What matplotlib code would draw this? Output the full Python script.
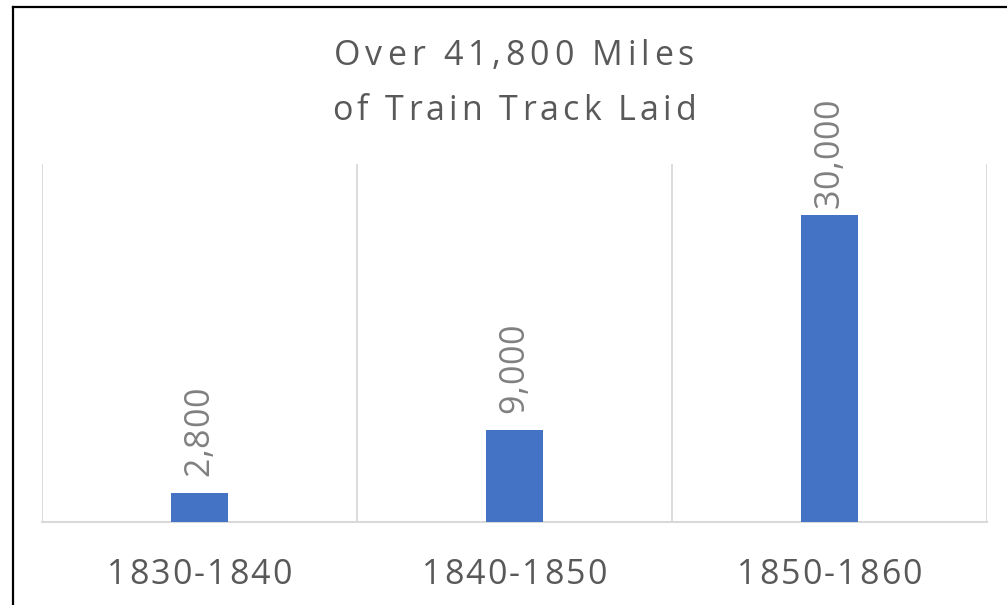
import numpy as np
import matplotlib.pyplot as plt
from matplotlib.lines import Line2D
from matplotlib.text import Text
from matplotlib.transforms import IdentityTransform, blended_transform_factory
from matplotlib.font_manager import findfont, get_font

periods = ['1830-1840', '1840-1850', '1850-1860']
miles = [2800, 9000, 30000]
value_labels = ['2,800', '9,000', '30,000']
title_lines = ['Over 41,800 Miles', 'of Train Track Laid']

plt.rcParams['font.family'] = ['Open Sans', 'DejaVu Sans']

W, H = 1007, 605
FS = 24.5


class TrackedText(Text):
    """Text drawn glyph by glyph with extra letter spacing (tracking, in pixels)."""

    def __init__(self, *args, tracking=0.0, anchor='center', **kwargs):
        super().__init__(*args, **kwargs)
        self._tracking = tracking
        self._anchor = anchor

    def draw(self, renderer):
        if not self.get_visible() or not self.get_text():
            return
        s = self.get_text()
        prop = self.get_fontproperties()
        font = get_font(findfont(prop))
        font.set_size(prop.get_size_in_points(), self.figure.dpi)
        adv = [font.load_char(ord(c)).linearHoriAdvance / 65536 for c in s]
        total = sum(adv) + self._tracking * (len(s) - 1)
        x, y = self.get_transform().transform(self.get_unitless_position())
        rot = self.get_rotation()
        ux, uy = np.cos(np.deg2rad(rot)), np.sin(np.deg2rad(rot))
        start = {'start': 0.0, 'center': -total / 2, 'end': -total}[self._anchor]
        pen = start
        for c, a in zip(s, adv):
            if c != ' ':
                d = pen + a / 2
                t = Text(x + d * ux, y + d * uy, c, transform=IdentityTransform(),
                         rotation=rot, ha='center', va=self.get_verticalalignment(),
                         rotation_mode='anchor' if rot == 0 else 'default',
                         fontproperties=prop, color=self.get_color())
                t.set_figure(self.figure)
                t.draw(renderer)
            pen += a + self._tracking


fig = plt.figure(figsize=(W / 100, H / 100), dpi=100)
ax = fig.add_axes([42 / W, 1 - 522 / H, 945 / W, 358 / H])

x = np.arange(len(periods))
ax.bar(x, miles, width=0.184, color='#4472C4', zorder=3)

ax.set_xlim(-0.5, len(periods) - 0.5)
ax.set_ylim(0, 35000)
ax.set_xticks([])
ax.set_yticks([])
for s in ['top', 'right', 'left']:
    ax.spines[s].set_visible(False)
ax.spines['bottom'].set_color('#d9d9d9')
ax.spines['bottom'].set_linewidth(1.5)
for b in np.arange(len(periods) + 1) - 0.5:
    ax.axvline(b, color='#d9d9d9', linewidth=1.3, zorder=1)

# data labels, rotated, just above the bars
label_gap = [17, 17, 7]
for xi, v, lab, gap in zip(x, miles, value_labels, label_gap):
    px, py = ax.transData.transform((xi, v))
    ax.add_artist(TrackedText(px, py + gap, lab, transform=IdentityTransform(),
                              rotation=90, va='center', anchor='start', tracking=0.8,
                              fontsize=FS, color='#808080'))

# category labels
xt = blended_transform_factory(ax.transData, fig.transFigure)
for xi, lab in zip(x, periods):
    fig.add_artist(TrackedText(xi, 1 - 584 / H, lab, transform=xt, va='baseline',
                               tracking=2.3, fontsize=FS, color='#595959'))

# title
for line, base, trk in zip(title_lines, [65, 120], [4.8, 4.0]):
    fig.add_artist(TrackedText(514 / W, 1 - base / H, line, transform=fig.transFigure,
                               va='baseline', tracking=trk, fontsize=FS, color='#595959'))

# frame: only top and left edges visible
fig.add_artist(Line2D([12.8 / W, 12.8 / W], [0, 1 - 7 / H], color='black', linewidth=1.6,
                      transform=fig.transFigure))
fig.add_artist(Line2D([12.8 / W, 1], [1 - 7 / H, 1 - 7 / H], color='black', linewidth=1.6,
                      transform=fig.transFigure))

fig.savefig('out.png', dpi=100)
